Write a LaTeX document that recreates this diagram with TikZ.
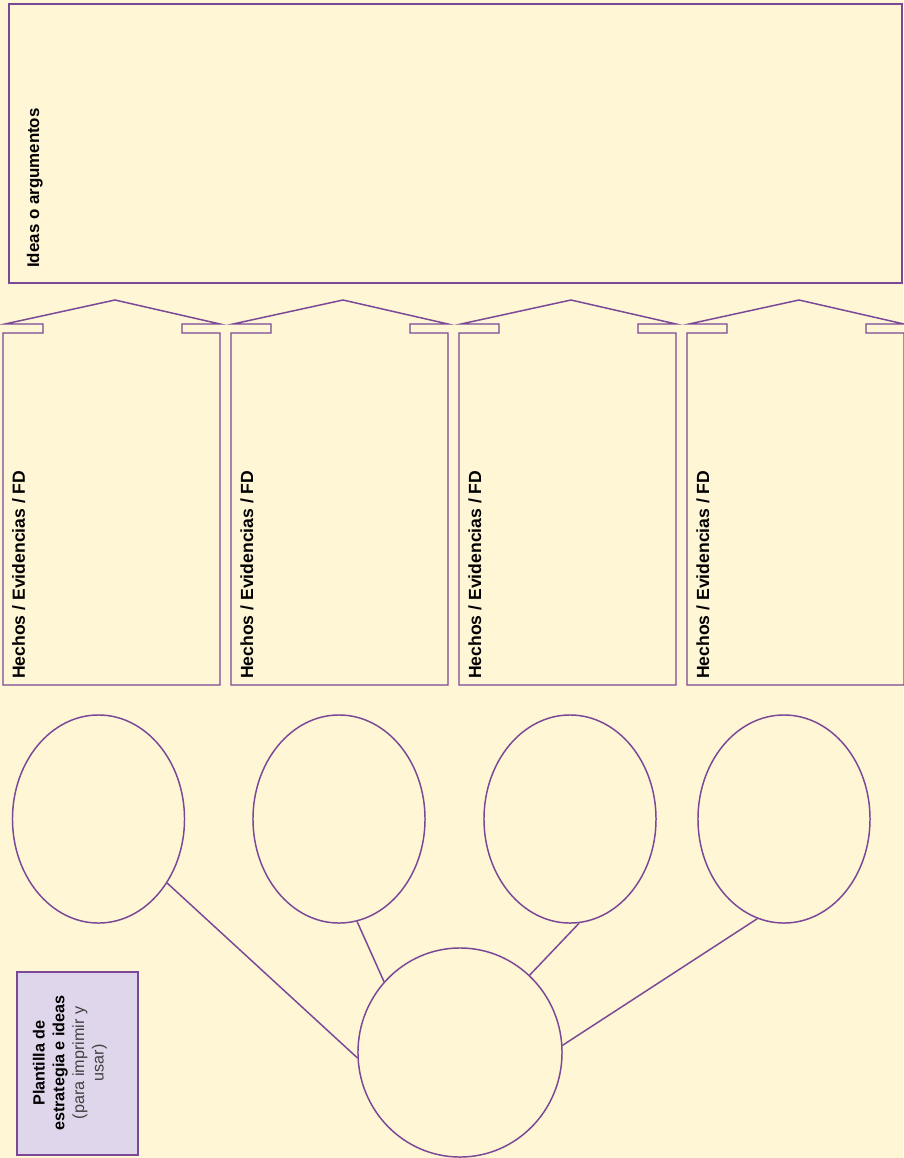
\documentclass[tikz,border=0pt]{standalone}
\usepackage{fontspec}
\setmainfont{Liberation Sans}
\usetikzlibrary{shapes.geometric}
\definecolor{fondo}{HTML}{FFF6D6}
\definecolor{morado}{HTML}{7A4896}
\definecolor{lila}{HTML}{E0D6EB}
\tikzset{
  globo/.style={ellipse, draw=morado, line width=1.05pt, inner sep=0pt,
    minimum width=4.3cm, minimum height=5.2cm},
  rotulo/.style={rotate=90, anchor=base west, inner sep=0pt,
    font=\fontsize{12.5}{15}\selectfont\bfseries},
  enlace/.style={draw=morado, line width=1.05pt}
}
\begin{document}
\begin{tikzpicture}[x=0.025cm, y=-0.025cm]
  \fill[fondo] (0,0) rectangle (903,1158);
  \useasboundingbox (0,0) rectangle (903,1158);
  \draw[morado, line width=1.4pt] (9,4) rectangle (902,283);
  \node[rotulo, font=\fontsize{12}{14}\selectfont\bfseries] (ideas) at (39,268) {Ideas o argumentos};
  % columnas: caja con techo en punta hacia arriba
  \foreach \xl/\xn in {3/1, 231/2, 459/3, 687/4} {
    \draw[morado, line width=1.05pt, line join=miter] (\xl,685) -- (\xl,333) -- (\xl+40,333)
      -- (\xl+40,324) -- (\xl+2,324) -- (\xl+112,300) -- (\xl+217,324)
      -- (\xl+179,324) -- (\xl+179,333) -- (\xl+217,333) -- (\xl+217,685) -- cycle;
    \node[rotulo] (hechos\xn) at (\xl+22,679) {Hechos / Evidencias / FD};
  }
  \foreach \xn/\xx in {1/98.5, 2/339, 3/570, 4/784}
    \node[globo] (globo\xn) at (\xx,819) {};
  \node[globo, minimum width=5.1cm, minimum height=5.225cm] (centro) at (460,1052.5) {};
  \draw[enlace] (globo1.-43) -- (centro.183);
  \draw[enlace] (globo2.-80) -- (centro.137);
  \draw[enlace] (globo3.-85) -- (centro.48);
  \draw[enlace] (globo4.-105) -- (centro.4);
  \node[draw=morado, fill=lila, line width=1.2pt, minimum width=3.025cm,
    minimum height=4.575cm] (plantilla) at (77.5,1063.5) {};
  \node[rotate=90, align=center, inner sep=0pt, font=\fontsize{11.5}{14}\selectfont]
    (plantillatxt) at (70,1063) {\textbf{Plantilla de}\\\textbf{estrategia e ideas}\\
    \textcolor{black!75}{(para imprimir y}\\\textcolor{black!75}{usar)}};
\end{tikzpicture}
\end{document}
